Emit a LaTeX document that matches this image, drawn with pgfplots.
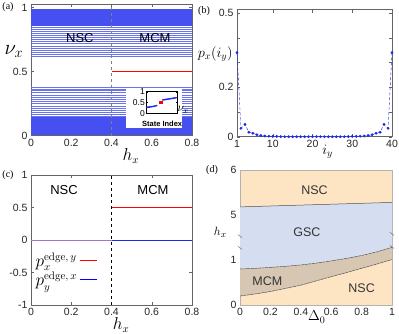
\documentclass[border=0pt]{standalone}
\usepackage[no-math]{fontspec}
\setmainfont{Liberation Sans}
\newfontfamily\seriffont{Liberation Serif}
\usepackage{pgfplots}
\pgfplotsset{compat=1.18}
\definecolor{nsc}{RGB}{253,229,196}
\definecolor{gsc}{RGB}{213,222,240}
\definecolor{mcm}{RGB}{215,199,178}
\definecolor{bblue}{RGB}{30,40,235}
\definecolor{denseblue}{RGB}{70,80,240}
\definecolor{sparseblue}{RGB}{105,115,240}
\definecolor{mixpurple}{RGB}{160,115,220}
\definecolor{axgray}{RGB}{100,100,100}
\definecolor{bndgray}{RGB}{80,80,80}
\pgfplotsset{
  base/.style={
    scale only axis, anchor=south west,
    axis line style={axgray, line width=0.5pt},
    tick style={axgray, line width=0.4pt},
    tick align=inside, major tick length=3pt,
    tick label style={font=\fontsize{10.5}{12}\selectfont, text=black!85},
    /pgf/number format/assume math mode=true,
    label style={font=\fontsize{16}{18}\selectfont},
    xlabel style={anchor=center},
    ylabel style={anchor=center, rotate=-90},
  },
}
\begin{document}
\begin{tikzpicture}
\path[use as bounding box] (0pt,0pt) rectangle (399pt,333pt);

% ---------------- (a)
\begin{axis}[base, at={(31pt,197.5pt)}, width=161pt, height=131.5pt,
  xmin=0, xmax=0.8, ymin=0, ymax=1.027,
  xtick={0,0.2,0.4,0.6,0.8}, ytick={0,0.5,1},
  xlabel={$h_x$}, ylabel={$\nu_x$},
  xlabel style={at={(axis description cs:0.62,-0.155)}},
  ylabel style={at={(axis description cs:-0.106,0.64)}, font=\fontsize{20}{22}\selectfont},
]
\pgfplotsinvokeforeach{0.012,0.017,0.022,0.027,0.032,0.037,0.042,0.047,0.052,0.057,0.062,0.067,0.072,0.077,0.082,0.087,0.092,0.097,0.102,0.107,0.112,0.117,0.122,0.127,0.132,0.137,0.142,
0.988,0.983,0.978,0.973,0.968,0.963,0.958,0.953,0.948,0.943,0.938,0.933,0.928,0.923,0.918,0.913,0.908,0.903,0.898,0.893,0.888,0.883,0.878,0.873,0.868,0.863,0.858}{
  \addplot[denseblue, line width=0.5pt, forget plot] coordinates {(0,#1) (0.8,#1)};
}
\pgfplotsinvokeforeach{0.152,0.168,0.185,0.2,0.215,0.232,0.25,0.265,0.282,0.3,0.318,0.335,0.35,0.365,0.378,
0.848,0.832,0.815,0.8,0.785,0.768,0.75,0.735,0.718,0.7,0.682,0.665,0.65,0.635,0.622}{
  \addplot[sparseblue, line width=0.5pt, forget plot] coordinates {(0,#1) (0.8,#1)};
}
\addplot[gray, dashed, line width=0.5pt, forget plot] coordinates {(0.4,0) (0.4,1.027)};
\addplot[red, line width=1.3pt, forget plot] coordinates {(0.4,0.5) (0.8,0.5)};
\fill[white] (axis cs:0.472,0.055) rectangle (axis cs:0.75,0.367);
\node[font=\fontsize{13}{15}\selectfont] at (axis cs:0.243,0.76) {NSC};
\node[font=\fontsize{13}{15}\selectfont] at (axis cs:0.616,0.76) {MCM};
\end{axis}

% ---------------- inset
\begin{axis}[scale only axis, anchor=south west, at={(146pt,219.7pt)}, width=31pt, height=21.6pt,
  xmin=0, xmax=35, ymin=0, ymax=1, xtick=\empty, ytick={0,0.5,1},
  axis line style={black, line width=0.6pt}, tick style={black}, tick align=inside, major tick length=1.5pt,
  tick label style={font=\fontsize{8.5}{10}\selectfont}, yticklabel style={inner sep=1pt},
  /pgf/number format/assume math mode=true,
  axis background/.style={fill=white},
  xlabel={State Index}, xlabel style={font=\fontsize{7.5}{9}\selectfont\bfseries, at={(axis description cs:0.52,-0.47)}, anchor=center},
  ylabel={$\nu_x$}, ylabel style={font=\fontsize{12}{14}\selectfont, at={(axis description cs:1.2,0.15)}, anchor=center, rotate=-90},
]
\addplot[only marks, mark=*, mark size=0.55pt, bblue] coordinates {(1,0.27)(2,0.28)(3,0.285)(4,0.29)(5,0.30)(6,0.305)(7,0.31)(8,0.32)(9,0.325)(10,0.335)(11,0.345)(12,0.355)};
\addplot[only marks, mark=square*, mark size=0.9pt, red] coordinates {(15.5,0.5)(16.5,0.5)(17.5,0.5)};
\addplot[only marks, mark=*, mark size=0.55pt, bblue] coordinates {(19,0.62)(20,0.625)(21,0.63)(22,0.64)(23,0.645)(24,0.65)(25,0.66)(26,0.665)(27,0.67)(28,0.68)(29,0.685)(30,0.69)(31,0.70)(32,0.705)(33,0.715)(34,0.72)};
\end{axis}

% ---------------- (b)
\begin{axis}[base, at={(237pt,196.3pt)}, width=155pt, height=127.2pt,
  xmin=1, xmax=40, ymin=0, ymax=0.514,
  xtick={1,10,20,30,40}, ytick={0,0.1,0.2,0.3,0.4,0.5}, yticklabels={0,,0.2,,,0.5},
  xlabel={$i_y$}, ylabel={$p_x(i_y)$},
  xlabel style={at={(axis description cs:0.585,-0.12)}, font=\fontsize{14}{16}\selectfont},
  ylabel style={at={(axis description cs:-0.14,0.65)}, font=\fontsize{14}{16}\selectfont},
  clip=false,
]
\addplot[bblue, densely dashed, line width=0.4pt, mark=*, mark size=1.2pt, mark options={solid, fill=bblue}] coordinates {
(1,0.340)(2,0.034)(3,0.050)(4,0.018)(5,0.014)(6,0.008)(7,0.005)(8,0.003)(9,0.002)(10,0.001)
(11,0.001)(12,0.0005)(13,0)(14,0)(15,0)(16,0)(17,0)(18,0)(19,0)(20,0)
(21,0)(22,0)(23,0)(24,0)(25,0)(26,0)(27,0)(28,0)(29,0.0005)(30,0.001)
(31,0.001)(32,0.002)(33,0.003)(34,0.005)(35,0.008)(36,0.014)(37,0.018)(38,0.050)(39,0.034)(40,0.340)};
\end{axis}

% ---------------- (c)
\begin{axis}[base, at={(31pt,28pt)}, width=161pt, height=130pt,
  xmin=0, xmax=0.8, ymin=-1, ymax=1,
  xtick={0,0.2,0.4,0.6,0.8}, ytick={-1,-0.5,0,0.5,1},
  xlabel={$h_x$}, xlabel style={at={(axis description cs:0.56,-0.154)}},
  legend style={at={(0.015,0.42)}, anchor=north west, draw=none, fill=none, font=\fontsize{16}{18}\selectfont, row sep=0pt, inner sep=0pt},
  legend plot pos=right, legend cell align=left,
  legend image code/.code={\draw[#1] (0cm,0cm) -- (0.6cm,0cm);},
]
\addlegendimage{red, line width=1.3pt}
\addlegendentry{$p_x^{\mathrm{edge},\,y}$}
\addlegendimage{blue, line width=1.3pt}
\addlegendentry{$p_y^{\mathrm{edge},\,x}$}
\addplot[black, dashed, line width=0.5pt, forget plot] coordinates {(0.4,-1) (0.4,1)};
\addplot[bblue, line width=1pt, forget plot] coordinates {(0,0) (0.8,0)};
\addplot[mixpurple, line width=1pt, forget plot] coordinates {(0,0) (0.4,0)};
\addplot[red, line width=1.3pt, forget plot] coordinates {(0.4,0.5) (0.8,0.5)};
\node[font=\fontsize{13}{15}\selectfont] at (axis cs:0.164,0.77) {NSC};
\node[font=\fontsize{13}{15}\selectfont] at (axis cs:0.606,0.77) {MCM};
\end{axis}

% ---------------- (d)
\begin{axis}[base, at={(240pt,28pt)}, width=152pt, height=135pt,
  xmin=0, xmax=1, ymin=0, ymax=3,
  xtick={0,0.2,0.4,0.6,0.8,1}, ytick={0,1,2,3}, yticklabels={0,1,5,6},
  major tick length=0pt, axis line style={gray!60, line width=0.5pt},
  axis background/.style={fill=nsc},
  xlabel={$\Delta_0$}, xlabel style={at={(axis description cs:0.505,-0.09)}, font=\fontsize{14}{16}\selectfont},
  ylabel={$h_x$}, ylabel style={at={(axis description cs:-0.13,0.54)}, font=\fontsize{13}{15}\selectfont},
  clip=false,
]
\addplot[fill=gsc, draw=none] coordinates {(0,0.80)(0.1,0.815)(0.2,0.835)(0.3,0.86)(0.4,0.89)(0.5,0.93)(0.6,0.98)(0.7,1.035)(0.8,1.10)(0.9,1.18)(1,1.28)
 (1,2.28)(0.5,2.23)(0,2.18)(0,0.80)};
\addplot[fill=mcm, draw=none] coordinates {(0,0.20)(0.1,0.245)(0.2,0.30)(0.3,0.37)(0.4,0.44)(0.5,0.535)(0.6,0.63)(0.7,0.72)(0.8,0.815)(0.9,0.91)(1,1.01)
 (1,1.28)(0.9,1.18)(0.8,1.10)(0.7,1.035)(0.6,0.98)(0.5,0.93)(0.4,0.89)(0.3,0.86)(0.2,0.835)(0.1,0.815)(0,0.80)(0,0.20)};
\addplot[bndgray, line width=0.5pt] coordinates {(0,2.18)(0.5,2.23)(1,2.28)};
\addplot[bndgray, line width=0.5pt, dash pattern=on 3pt off 0.6pt] coordinates {(0,0.80)(0.1,0.815)(0.2,0.835)(0.3,0.86)(0.4,0.89)(0.5,0.93)(0.6,0.98)(0.7,1.035)(0.8,1.10)(0.9,1.18)(1,1.28)};
\addplot[bndgray, line width=0.5pt, dash pattern=on 3pt off 0.6pt] coordinates {(0,0.20)(0.1,0.245)(0.2,0.30)(0.3,0.37)(0.4,0.44)(0.5,0.535)(0.6,0.63)(0.7,0.72)(0.8,0.815)(0.9,0.91)(1,1.01)};
\draw[gray, line width=0.6pt] (axis cs:0,1.27) +(-2pt,1.5pt) -- +(2pt,-1.5pt);
\draw[gray, line width=0.6pt] (axis cs:0,1.53) +(-2pt,1.5pt) -- +(2pt,-1.5pt);
\draw[gray, line width=0.6pt] (axis cs:1,1.29) +(-2pt,1.5pt) -- +(2pt,-1.5pt);
\draw[gray, line width=0.6pt] (axis cs:1,1.58) +(-2pt,1.5pt) -- +(2pt,-1.5pt);
\node[font=\fontsize{12.5}{15}\selectfont, text=black!80] at (axis cs:0.49,2.56) {NSC};
\node[font=\fontsize{12.5}{15}\selectfont, text=black!80] at (axis cs:0.44,1.62) {GSC};
\node[font=\fontsize{12.5}{15}\selectfont, text=black!80] at (axis cs:0.18,0.53) {MCM};
\node[font=\fontsize{12.5}{15}\selectfont, text=black!80] at (axis cs:0.80,0.38) {NSC};
\end{axis}

% panel labels
\node[font=\seriffont\fontsize{10}{12}\selectfont] at (8pt,326pt) {(a)};
\node[font=\seriffont\fontsize{10}{12}\selectfont] at (204pt,322pt) {(b)};
\node[font=\seriffont\fontsize{10}{12}\selectfont] at (8pt,158pt) {(c)};
\node[font=\seriffont\fontsize{10}{12}\selectfont] at (212pt,163pt) {(d)};
\end{tikzpicture}
\end{document}
